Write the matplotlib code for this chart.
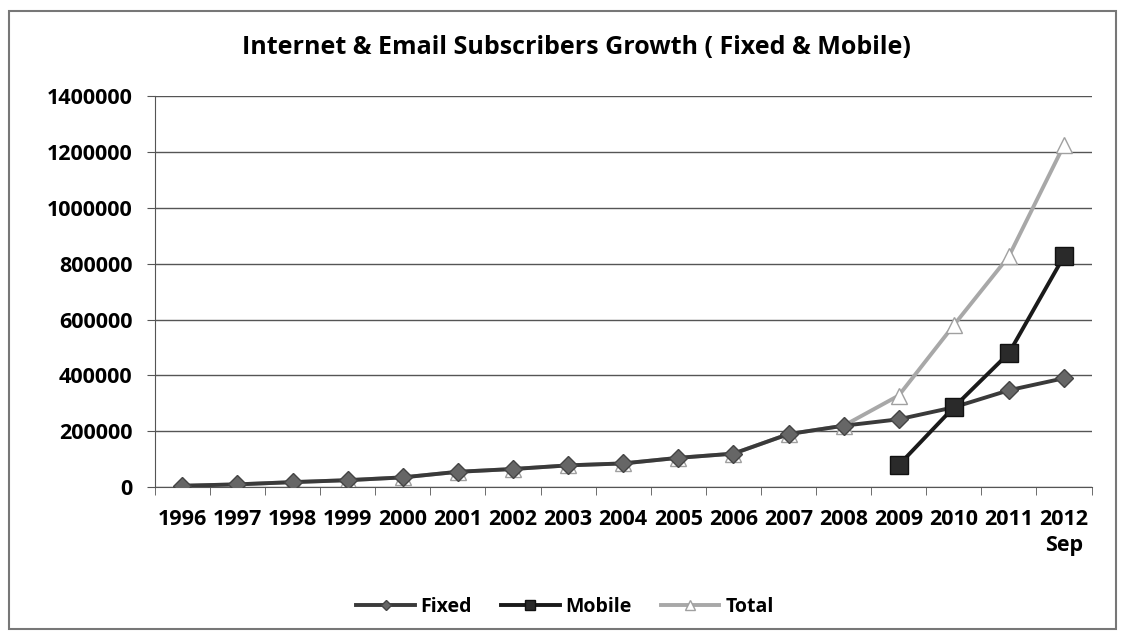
import numpy as np
import matplotlib.pyplot as plt
from matplotlib.patches import Rectangle

years = ['1996', '1997', '1998', '1999', '2000', '2001', '2002', '2003', '2004',
         '2005', '2006', '2007', '2008', '2009', '2010', '2011', '2012\nSep']
fixed = [5000, 10000, 18000, 25000, 35000, 55000, 65000, 78000, 85000,
         105000, 120000, 190000, 220000, 243000, 286000, 347000, 390000]
mobile = [None] * 13 + [79000, 286000, 480000, 827000]
total = [5000, 10000, 18000, 25000, 35000, 55000, 65000, 78000, 85000,
         105000, 120000, 190000, 220000, 328000, 580000, 827000, 1225000]

plt.rcParams['font.family'] = ['Open Sans', 'DejaVu Sans']

fig = plt.figure(figsize=(11.3, 6.41), dpi=100)
fig.patches.append(Rectangle((0.008, 0.018), 0.98, 0.965, transform=fig.transFigure,
                             fill=False, edgecolor='#777777', linewidth=1.5))
ax = fig.add_axes([0.137, 0.240, 0.829, 0.610])

x = np.arange(len(years))
mob = np.array([np.nan if v is None else v for v in mobile], dtype=float)

ax.plot(x, total, color='#a8a8a8', linewidth=2.8, marker='^', markersize=11,
        markerfacecolor='white', markeredgecolor='#a0a0a0', label='Total', zorder=2)
ax.plot(x, fixed, color='#3a3a3a', linewidth=2.8, marker='D', markersize=9,
        markerfacecolor='#666666', markeredgecolor='#444444', label='Fixed', zorder=3)
ax.plot(x, mob, color='#1a1a1a', linewidth=2.8, marker='s', markersize=13,
        markerfacecolor='#2a2a2a', markeredgecolor='#111111', label='Mobile', zorder=4)

ax.set_xlim(-0.5, len(years) - 0.5)
ax.set_ylim(0, 1400000)
ax.set_yticks(np.arange(0, 1400001, 200000))
ax.set_yticklabels([str(v) for v in range(0, 1400001, 200000)], fontsize=15.5, fontweight='bold')
ax.set_xticks(x)
ax.set_xticklabels(years, fontsize=15.5, fontweight='bold', linespacing=1.3)
ax.set_xticks(np.arange(-0.5, len(years)), minor=True)
ax.tick_params(axis='x', which='major', length=0, pad=16)
ax.tick_params(axis='x', which='minor', length=6, direction='out', color='#555555')
ax.tick_params(axis='y', length=6, direction='out', color='#555555', pad=10)
ax.grid(axis='y', color='#555555', linewidth=1)
ax.set_axisbelow(True)
for s in ['top', 'right']:
    ax.spines[s].set_visible(False)
for s in ['left', 'bottom']:
    ax.spines[s].set_color('#555555')

fig.text(0.51, 0.915, 'Internet & Email Subscribers Growth ( Fixed & Mobile)',
         ha='center', fontsize=18, fontweight='bold')

h, l = ax.get_legend_handles_labels()
order = [1, 2, 0]
leg = fig.legend([h[i] for i in order], [l[i] for i in order], loc='center',
                 bbox_to_anchor=(0.5, 0.053), ncol=3, frameon=False,
                 prop={'size': 14, 'weight': 'bold'}, markerscale=0.6,
                 handlelength=3, handletextpad=0.3, columnspacing=1.5)

fig.savefig('out.png', dpi=100)
